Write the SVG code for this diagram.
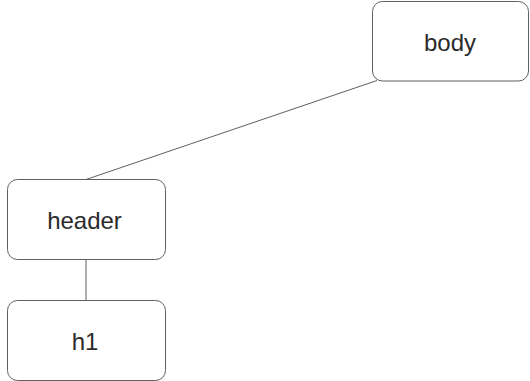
<svg xmlns="http://www.w3.org/2000/svg" width="530" height="381" viewBox="0 0 530 381">
<style>
.box{fill:#fff;stroke:#5f5f5f;stroke-width:1}
.lbl{font-family:"Liberation Sans",Arial,sans-serif;font-size:24px;fill:#2b2b2b;text-anchor:middle}
.edge{stroke:#5f5f5f;stroke-width:1;fill:none}
</style>
<rect width="530" height="381" fill="#fff"/>
<g id="connectors">
<line class="edge" x1="377" y1="80.5" x2="86" y2="179.5"/>
<line class="edge" x1="86" y1="259.5" x2="86" y2="300.5"/>
</g>
<g id="body">
<rect class="box" x="372.5" y="1.5" width="156" height="79.5" rx="10"/>
<text class="lbl" x="450" y="50.5">body</text>
</g>
<g id="header">
<rect class="box" x="7.5" y="179.5" width="158" height="80" rx="10"/>
<text class="lbl" x="84.5" y="229.3">header</text>
</g>
<g id="h1">
<rect class="box" x="7.5" y="300.5" width="158" height="80" rx="10"/>
<text class="lbl" x="85" y="350.3">h1</text>
</g>
</svg>
